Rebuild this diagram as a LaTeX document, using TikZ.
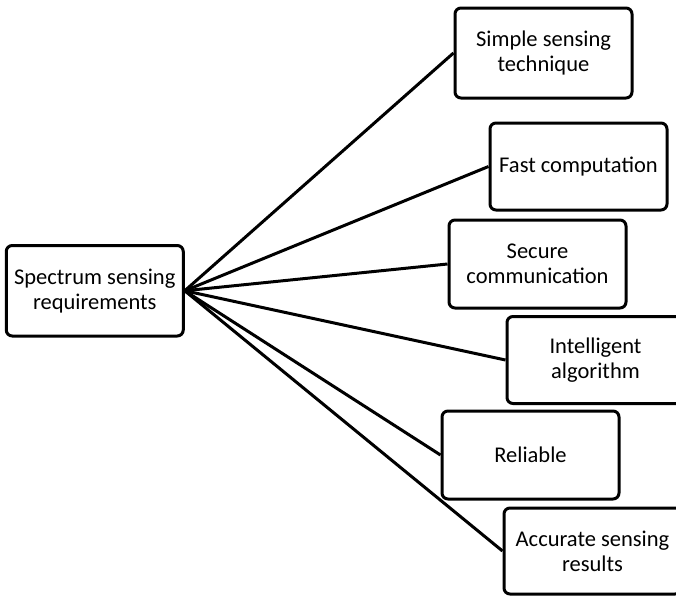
\documentclass[tikz,border=0pt]{standalone}
\usepackage{fontspec}
\setmainfont{Carlito}
\begin{document}
\begin{tikzpicture}[x=1pt,y=-1pt,
  box/.style={draw, line width=3pt, rounded corners=6pt, align=center,
    inner sep=0pt, minimum width=177pt, fill=white,
    font=\fontsize{22.5}{25}\selectfont},
  conn/.style={line width=3pt}]
\useasboundingbox (0,0) rectangle (676,597);
\clip (0,0) rectangle (676,597);
\node[box, minimum height=90.5pt] (src) at (94.75,290.75) {Spectrum sensing\\requirements};
\node[box, minimum height=90pt] (b1) at (543.5,53) {Simple sensing\\technique};
\node[box, minimum height=87pt] (b2) at (578.5,166.5) {Fast computation};
\node[box, minimum height=88pt] (b3) at (537.5,264) {Secure\\communication};
\node[box, minimum height=87pt] (b4) at (595.5,360) {Intelligent\\algorithm};
\node[box, minimum height=88pt] (b5) at (530.5,455) {Reliable};
\node[box, minimum height=86pt] (b6) at (592.5,551) {Accurate sensing\\results};
\foreach \t in {b1,b2,b3,b4,b5,b6}
  \draw[conn] (src.east) -- (\t.west);
\end{tikzpicture}
\end{document}
